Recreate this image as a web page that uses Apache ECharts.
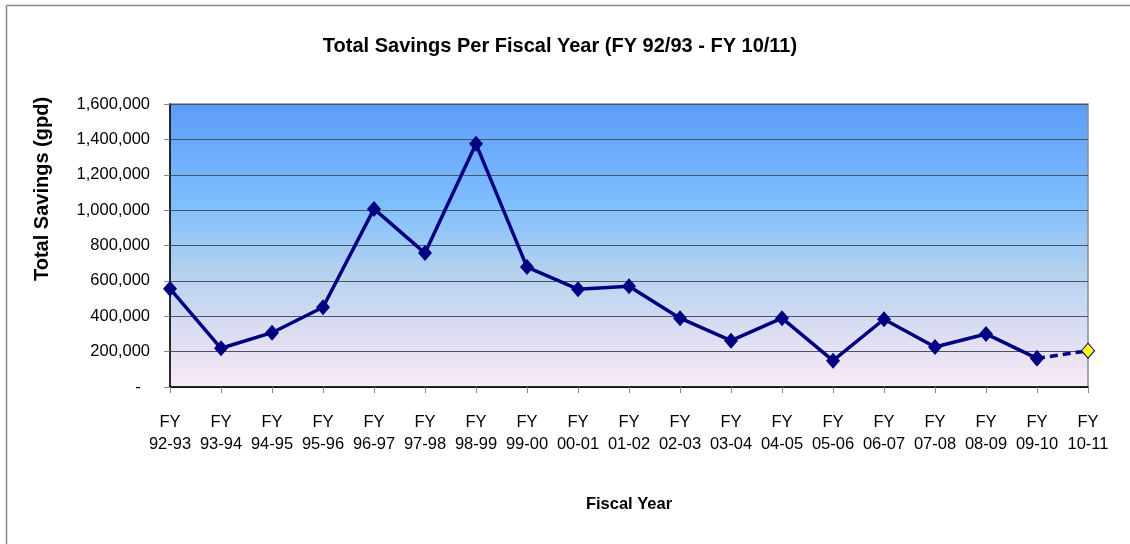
<!DOCTYPE html>
<html>
<head>
<meta charset="utf-8">
<script src="https://cdn.jsdelivr.net/npm/echarts@6/dist/echarts.min.js"></script>
<style>
html,body{margin:0;padding:0;background:#fff;}
#chart{width:1130px;height:544px;}
</style>
</head>
<body>
<div id="chart"></div>
<script>
const categories = ['92-93','93-94','94-95','95-96','96-97','97-98','98-99','99-00','00-01','01-02','02-03','03-04','04-05','05-06','06-07','07-08','08-09','09-10','10-11'];
const savings = [556000,219000,307000,451000,1007000,757000,1375000,678000,553000,570000,389000,262000,389000,149000,383000,226000,300000,162000,205000];
const yTicks = { min: 0, max: 1600000, interval: 200000 };

const n = savings.length;
const solidData = savings.map((v, i) => (i < n - 1 ? v : null));
const dashedData = savings.map((v, i) => (i >= n - 2 ? v : null));

const chart = echarts.init(document.getElementById('chart'));
const font = 'Liberation Sans, Arial, sans-serif';

chart.setOption({
  animation: false,
  backgroundColor: '#ffffff',
  title: {
    text: 'Total Savings Per Fiscal Year (FY 92/93 - FY 10/11)',
    left: 555,
    top: 31,
    textAlign: 'center',
    textStyle: { fontFamily: font, fontSize: 20, fontWeight: 'bold', color: '#000' }
  },
  graphic: [
    { type: 'line', shape: { x1: 6.5, y1: 5.5, x2: 6.5, y2: 544 }, style: { stroke: '#888', lineWidth: 1.5 } },
    { type: 'line', shape: { x1: 6.5, y1: 5.5, x2: 1130, y2: 5.5 }, style: { stroke: '#888', lineWidth: 1.5 } },
    {
      type: 'text', x: 42, y: 189, rotation: Math.PI / 2,
      style: {
        text: 'Total Savings (gpd)',
        font: 'bold 20px Liberation Sans, Arial, sans-serif',
        fill: '#000', align: 'center', verticalAlign: 'middle'
      }
    }
  ],
  grid: {
    left: 170, right: 42, top: 104, bottom: 157,
    show: true,
    borderColor: '#8c8c8c',
    borderWidth: 1.5,
    backgroundColor: new echarts.graphic.LinearGradient(0, 0, 0, 1, [
      { offset: 0, color: '#5b9cfa' },
      { offset: 0.35, color: '#7fbefd' },
      { offset: 0.6, color: '#b5d2ef' },
      { offset: 0.85, color: '#e3dff3' },
      { offset: 1, color: '#fbe9f6' }
    ])
  },
  xAxis: {
    type: 'category',
    data: categories,
    boundaryGap: false,
    name: 'Fiscal Year',
    nameLocation: 'middle',
    nameGap: 109,
    nameTextStyle: { fontFamily: font, fontSize: 16.5, fontWeight: 'bold', color: '#000' },
    axisLine: { show: true, lineStyle: { color: '#000', width: 1.5 } },
    axisTick: { show: true, inside: false, length: 6, alignWithLabel: true, lineStyle: { color: '#888' } },
    axisLabel: {
      interval: 0,
      margin: 24,
      fontFamily: font, fontSize: 16.5, color: '#000', lineHeight: 22,
      formatter: v => 'FY\n' + v
    },
    splitLine: { show: false }
  },
  yAxis: {
    type: 'value',
    min: yTicks.min, max: yTicks.max, interval: yTicks.interval,
    axisLine: { show: true, lineStyle: { color: '#000', width: 1.5 } },
    axisTick: { show: true, inside: false, length: 6, lineStyle: { color: '#888' } },
    axisLabel: {
      margin: 20,
      fontFamily: font, fontSize: 16.5, color: '#000',
      formatter: v => (v === 0 ? '-  ' : v.toLocaleString('en-US'))
    },
    splitLine: { show: true, lineStyle: { color: '#4a5460', width: 1 } }
  },
  series: [
    {
      type: 'line',
      data: solidData,
      symbol: 'diamond',
      symbolSize: [14, 16],
      showAllSymbol: true,
      lineStyle: { color: '#000080', width: 3.5 },
      itemStyle: { color: '#000080' },
      z: 3
    },
    {
      type: 'line',
      data: dashedData,
      symbol: 'diamond',
      symbolSize: [13, 15],
      showAllSymbol: true,
      lineStyle: { color: '#000080', width: 3.5, type: [8, 5] },
      itemStyle: {
        color: p => (p.dataIndex === n - 1 ? '#ffff00' : '#000080'),
        borderColor: '#000080',
        borderWidth: 1
      },
      z: 2
    }
  ]
});
</script>
</body>
</html>
